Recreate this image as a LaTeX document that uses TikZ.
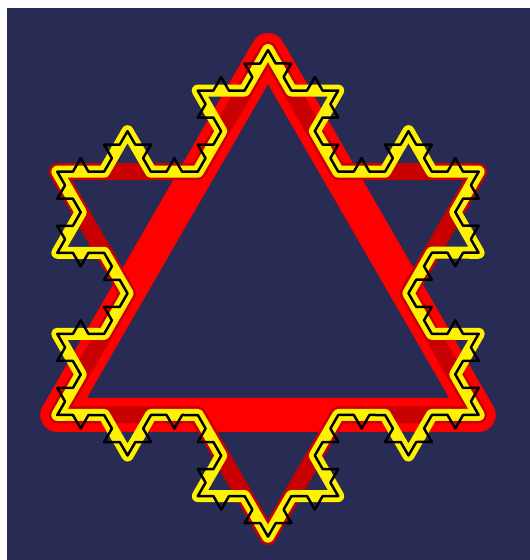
\documentclass[tikz,border=0pt]{standalone}
\usetikzlibrary{decorations.fractals}
\definecolor{night}{RGB}{40,44,84}
\definecolor{starred}{RGB}{200,0,0}

\begin{document}
\begin{tikzpicture}[
    x=1pt, y=1pt,
    decoration=Koch snowflake,
    curve/.style={line join=round, line cap=round},
    level0/.style={curve, draw=red, line width=34pt},
    level1/.style={curve, draw=starred, line width=17pt},
    level2/.style={curve, draw=yellow, line width=12pt},
    level3/.style={curve, draw=black, line width=2.5pt, shift={(-1.5,2.5)}}
]
\useasboundingbox (0,0) rectangle (530,560);
% frame and background
\fill[white] (0,0) rectangle (530,560);
\fill[night] (7,0) rectangle (530,552);
% corners of the first triangle
\coordinate (top) at (268,510);
\coordinate (right) at (478.7,145);
\coordinate (left) at (57.3,145);
% one layer per iteration
\draw[level0] (top) -- (right) -- (left) -- cycle;
\draw[level1] decorate{(top) -- (right) -- (left) -- (top)};
\draw[level2] decorate{decorate{(top) -- (right) -- (left) -- (top)}};
\draw[level3] decorate{decorate{decorate{(top) -- (right) -- (left) -- (top)}}};
\end{tikzpicture}
\end{document}
